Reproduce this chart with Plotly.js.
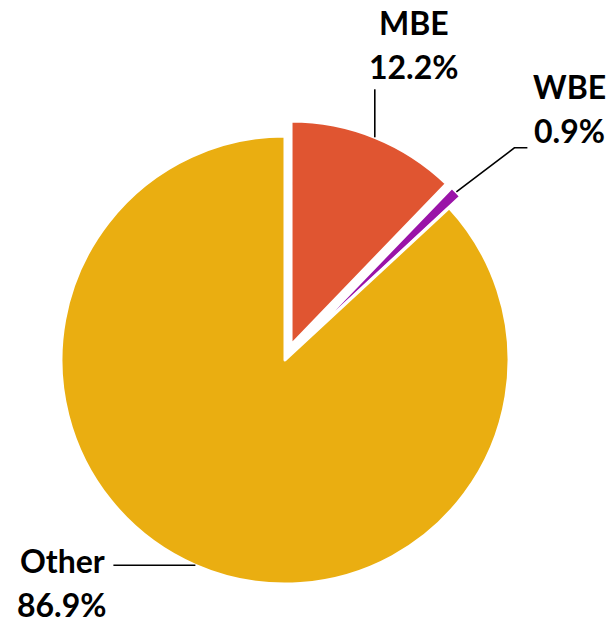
<!DOCTYPE html>
<html>
<head>
<meta charset="utf-8">
<script src="https://cdn.plot.ly/plotly-3.0.1.min.js"></script>
<style>html,body{margin:0;padding:0;background:#fff;}#chart{width:610px;height:620px;}</style>
</head>
<body>
<div id="chart"></div>
<script>
// ---- data ----
const labels = ['MBE', 'WBE', 'Other'];
const values = [12.2, 0.9, 86.9];
const percentText = ['12.2%', '0.9%', '86.9%'];

// ---- styling ----
const colors = ['#E05531', '#9A14A8', '#EAAE11'];
const pulls = [0.072, 0.072, 0];
const W = 610, H = 620;
const cx = 285, cy = 360, R = 224;          // pie centre and radius (px)
const maxPull = Math.max(...pulls);
const half = R * (1 + maxPull);
const dom = {
  x: [(cx - half) / W, (cx + half) / W],
  y: [(H - cy - half) / H, (H - cy + half) / H]
};
// leader-line geometry per slice (px offsets from the arc midpoint)
const leaders = [
  {pts: [[0, -48]], text: [39, -115], text2: [39, -71]},
  {pts: [[58, -44], [71, -44]], text: [113, -105], text2: [113, -61]},
  {pts: [[-82, 0]], text: [-133, -5], text2: [-133, 39]}
];

const total = values.reduce((a, b) => a + b, 0);
const px = x => x / W, py = y => 1 - y / H;
const shapes = [], annotations = [];
let cum = 0;
values.forEach((v, i) => {
  const mid = (cum + v / 2) / total * 2 * Math.PI; // clockwise from 12 o'clock
  cum += v;
  const off = pulls[i] * R;
  const ox = cx + off * Math.sin(mid), oy = cy - off * Math.cos(mid);
  const ex = ox + R * Math.sin(mid), ey = oy - R * Math.cos(mid);
  const L = leaders[i];
  let d = 'M' + px(ex) + ',' + py(ey);
  L.pts.forEach(p => { d += ' L' + px(ex + p[0]) + ',' + py(ey + p[1]); });
  shapes.push({type: 'path', xref: 'paper', yref: 'paper', path: d,
    line: {color: '#000', width: 1.6}});
  const font = {family: 'Lato, "Open Sans", sans-serif', size: 32, color: '#000', weight: 'bold'};
  annotations.push({xref: 'paper', yref: 'paper', x: px(ex + L.text[0]), y: py(ey + L.text[1]),
    xanchor: 'center', yanchor: 'middle', showarrow: false, text: '<b>' + labels[i] + '</b>', font: font});
  annotations.push({xref: 'paper', yref: 'paper', x: px(ex + L.text2[0]), y: py(ey + L.text2[1]),
    xanchor: 'center', yanchor: 'middle', showarrow: false, text: '<b>' + percentText[i] + '</b>', font: font});
});

const trace = {
  type: 'pie',
  labels: labels,
  values: values,
  sort: false,
  direction: 'clockwise',
  rotation: 0,
  pull: pulls,
  textinfo: 'none',
  hoverinfo: 'label+percent',
  marker: {colors: colors, line: {color: '#fff', width: 3}},
  domain: dom,
  showlegend: false
};

Plotly.newPlot('chart', [trace], {
  width: W, height: H,
  margin: {l: 0, r: 0, t: 0, b: 0},
  paper_bgcolor: '#fff',
  showlegend: false,
  shapes: shapes,
  annotations: annotations
}, {displayModeBar: false, staticPlot: true});
</script>
</body>
</html>
